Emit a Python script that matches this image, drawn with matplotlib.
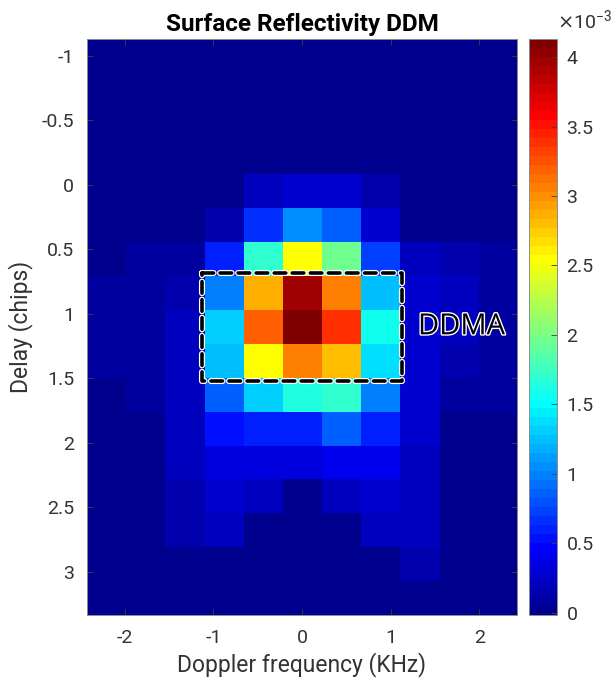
import numpy as np
import matplotlib
matplotlib.use("Agg")
import matplotlib.pyplot as plt
from matplotlib.colors import ListedColormap, Normalize
import matplotlib.patheffects as pe

plt.rcParams['font.family'] = ['Roboto', 'DejaVu Sans']

# ----------------------------------------------------------------------
# DDM grid (bin centres) and reflectivity values, units of 1e-3
# ----------------------------------------------------------------------
doppler_khz = [-2.21, -1.77, -1.33, -0.885, -0.44, 0.0,
               0.44, 0.885, 1.33, 1.77, 2.21]
delay_chips = [-1.0, -0.737, -0.475, -0.212, 0.051, 0.314, 0.576, 0.839,
               1.102, 1.364, 1.627, 1.890, 2.152, 2.415, 2.678, 2.940, 3.203]

ddm_e3 = [
    [0.03, 0.03, 0.03, 0.03, 0.03, 0.03, 0.03, 0.03, 0.03, 0.03, 0.03],
    [0.03, 0.03, 0.03, 0.03, 0.03, 0.03, 0.03, 0.03, 0.03, 0.03, 0.03],
    [0.03, 0.03, 0.03, 0.03, 0.03, 0.03, 0.03, 0.03, 0.03, 0.03, 0.03],
    [0.03, 0.03, 0.03, 0.03, 0.03, 0.03, 0.03, 0.03, 0.03, 0.03, 0.03],
    [0.03, 0.03, 0.03, 0.03, 0.20, 0.30, 0.26, 0.15, 0.03, 0.03, 0.03],
    [0.03, 0.03, 0.03, 0.15, 0.67, 1.08, 0.88, 0.26, 0.04, 0.03, 0.03],
    [0.04, 0.10, 0.10, 0.57, 1.70, 2.53, 1.96, 0.72, 0.20, 0.12, 0.06],
    [0.08, 0.10, 0.12, 0.98, 2.84, 3.96, 3.05, 1.24, 0.26, 0.18, 0.10],
    [0.08, 0.10, 0.18, 1.29, 3.20, 4.13, 3.41, 1.55, 0.30, 0.24, 0.10],
    [0.06, 0.10, 0.18, 1.24, 2.53, 3.05, 2.79, 1.40, 0.30, 0.15, 0.10],
    [0.04, 0.10, 0.18, 0.88, 1.33, 1.65, 1.70, 0.98, 0.30, 0.08, 0.06],
    [0.03, 0.04, 0.18, 0.52, 0.62, 0.62, 0.88, 0.60, 0.28, 0.04, 0.04],
    [0.03, 0.04, 0.18, 0.36, 0.35, 0.35, 0.38, 0.38, 0.24, 0.04, 0.03],
    [0.03, 0.03, 0.16, 0.26, 0.20, 0.03, 0.22, 0.28, 0.20, 0.03, 0.03],
    [0.03, 0.03, 0.16, 0.20, 0.03, 0.03, 0.03, 0.20, 0.18, 0.03, 0.03],
    [0.03, 0.03, 0.03, 0.03, 0.03, 0.03, 0.03, 0.04, 0.16, 0.03, 0.03],
    [0.03, 0.03, 0.03, 0.03, 0.03, 0.03, 0.03, 0.03, 0.03, 0.03, 0.03],
]

# DDMA region: column / row index ranges of the grid
ddma_cols = (3, 7)
ddma_rows = (7, 9)

cbar_ticks = [0, 0.5, 1, 1.5, 2, 2.5, 3, 3.5, 4]
clim = (-0.016, 4.13)


def matlab_jet(m=64):
    """Same table as MATLAB's jet(m)."""
    n = int(np.ceil(m / 4))
    u = np.concatenate([np.arange(1, n + 1) / n, np.ones(n - 1),
                        np.arange(n, 0, -1) / n])
    g = int(np.ceil(n / 2)) - (1 if m % 4 == 1 else 0) + np.arange(1, len(u) + 1)
    r = g + n
    b = g - n
    J = np.zeros((m, 3))
    J[r[r <= m] - 1, 0] = u[r <= m]
    J[g[g <= m] - 1, 1] = u[g <= m]
    J[b[b >= 1] - 1, 2] = u[b >= 1]
    return ListedColormap(J)


x = np.asarray(doppler_khz)
y = np.asarray(delay_chips)
z = np.asarray(ddm_e3)
dx = np.mean(np.diff(x))
dy = np.mean(np.diff(y))

fig = plt.figure(figsize=(6.12, 6.88), dpi=100)
ax = fig.add_axes([0.1417, 0.1061, 0.7036, 0.8372])
cax = fig.add_axes([0.8649, 0.1061, 0.0448, 0.8372])

im = ax.imshow(z, cmap=matlab_jet(64), norm=Normalize(*clim),
               extent=[x[0] - dx / 2, x[-1] + dx / 2,
                       y[-1] + dy / 2, y[0] - dy / 2],
               aspect="auto", interpolation="nearest")

# dashed DDMA box around the selected bins
pad = 0.028
bx0 = x[ddma_cols[0]] - dx / 2 - pad
bx1 = x[ddma_cols[1]] + dx / 2 + pad
by0 = y[ddma_rows[0]] - dy / 2 - pad
by1 = y[ddma_rows[1]] + dy / 2 + pad
box, = ax.plot([bx0, bx1, bx1, bx0, bx0], [by0, by0, by1, by1, by0],
               color="black", lw=2.6, ls=(0, (3.2, 1.8)),
               dash_capstyle="round", solid_joinstyle="miter")
box.set_path_effects([pe.Stroke(linewidth=4.4, foreground="white"),
                      pe.Normal()])

ax.text(1.80, 1.10, "DDMA", fontsize=21, color="black",
        family=["Open Sans", "DejaVu Sans"], ha="center", va="center",
        path_effects=[pe.withStroke(linewidth=2, foreground="white")])

ax.set_xticks([-2, -1, 0, 1, 2])
ax.set_yticks([-1, -0.5, 0, 0.5, 1, 1.5, 2, 2.5, 3])
ax.set_yticklabels(["-1", "-0.5", "0", "0.5", "1", "1.5", "2", "2.5", "3"])
ax.set_xticklabels(["-2", "-1", "0", "1", "2"])
ax.tick_params(direction="in", length=4, width=0.6, color="0.25",
               labelsize=14, labelcolor="0.2", top=True, right=True)
ax.tick_params(axis="x", pad=10)
ax.tick_params(axis="y", pad=9)
for sp in ax.spines.values():
    sp.set_color("0.55")
    sp.set_linewidth(0.7)

ax.set_xlabel("Doppler frequency (KHz)", fontsize=16.5, color="0.2", labelpad=4)
ax.set_ylabel("Delay (chips)", fontsize=16.5, color="0.2", labelpad=6)
ax.set_title("Surface Reflectivity DDM", fontsize=17.5, fontweight="bold",
             pad=6)

cb = fig.colorbar(im, cax=cax, ticks=cbar_ticks)
cb.ax.set_yticklabels([f"{t:g}" for t in cbar_ticks])
cb.ax.tick_params(direction="in", length=4, width=0.6, color="0.25",
                  labelsize=14, labelcolor="0.2", pad=7)
cb.outline.set_edgecolor("0.55")
cb.outline.set_linewidth(0.7)
cb.ax.text(1.0, 1.012, r"$\times\mathregular{10^{-3}}$", transform=cb.ax.transAxes,
           fontsize=14, color="0.2", ha="left", va="bottom")

fig.savefig("out.png", dpi=100)
